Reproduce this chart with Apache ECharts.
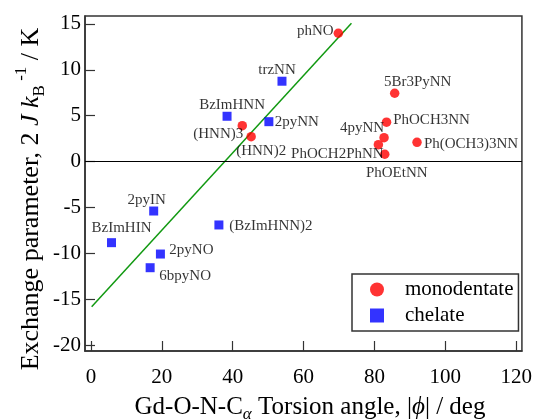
<!DOCTYPE html>
<html>
<head>
<meta charset="utf-8">
<script src="https://cdn.jsdelivr.net/npm/echarts@6/dist/echarts.min.js"></script>
<style>
html,body{margin:0;padding:0;background:#fff;}
#c{width:535px;height:419px;}
</style>
</head>
<body>
<div id="c"></div>
<script>
// ---- data ----
var xTicks = [0, 20, 40, 60, 80, 100, 120];
var yTicks = [-20, -15, -10, -5, 0, 5, 10, 15];

var monoNames = ['phNO', '(HNN)3', '(HNN)2', '5Br3PyNN', 'PhOCH3NN', '4pyNN', 'PhOCH2PhNN', 'PhOEtNN', 'Ph(OCH3)3NN'];
var monoX = [69.8, 42.7, 45.2, 85.7, 83.4, 82.7, 81.1, 82.9, 92.0];
var monoY = [13.99, 3.91, 2.72, 7.45, 4.29, 2.61, 1.84, 0.80, 2.10];

var chelNames = ['trzNN', 'BzImHNN', '2pyNN', '2pyIN', 'BzImHIN', '(BzImHNN)2', '2pyNO', '6bpyNO'];
var chelX = [53.9, 38.4, 50.2, 17.7, 5.8, 36.1, 19.6, 16.7];
var chelY = [8.76, 4.94, 4.35, -5.39, -8.84, -6.91, -10.08, -11.57];

var fitX = [0.2, 73.5];
var fitY = [-15.82, 15.08];

// ---- label placement (style, px offsets of label centre from mark) ----
var monoLabelOffset = [[-23, -2], [-24, 8], [10, 14], [23, -11], [45, -2], [-22, -10], [-41, 9], [12, 19], [54, 2]];
var chelLabelOffset = [[-5, -11], [5, -11], [28, 0], [-7, -11], [10, -15], [52, 1], [31, -4], [35, 8]];

var FONT = 'Liberation Serif, Times New Roman, serif';

function build(names, xs, ys, offs) {
  return names.map(function (n, i) {
    return { name: n, value: [xs[i], ys[i]], label: { offset: offs[i] } };
  });
}

var chart = echarts.init(document.getElementById('c'), null, { renderer: 'canvas' });

var axisCommon = {
  type: 'value',
  axisLine: { show: true, onZero: false, lineStyle: { color: '#333', width: 1.5 } },
  axisTick: { show: true, inside: true, length: 10, lineStyle: { color: '#333', width: 1.2 } },
  splitLine: { show: false },
  axisLabel: { color: '#000', fontFamily: FONT, fontSize: 21 }
};

var option = {
  backgroundColor: '#fff',
  animation: false,
  grid: { left: 85, right: 10, top: 16, bottom: 68, show: true, borderColor: '#333', borderWidth: 1.5, backgroundColor: 'transparent' },
  xAxis: echarts.util.merge({
    min: -1.68, max: 121.6,
    axisTick: { customValues: xTicks },
    axisLabel: { customValues: xTicks, margin: 16 }
  }, axisCommon),
  yAxis: echarts.util.merge({
    min: -20.65, max: 15.87,
    axisTick: { customValues: yTicks },
    axisLabel: { customValues: yTicks, margin: 4 }
  }, axisCommon),
  legend: {
    orient: 'vertical',
    left: 352, top: 274,
    padding: [5, 5, 5, 18],
    itemGap: 5,
    itemWidth: 14, itemHeight: 14,
    borderColor: '#333', borderWidth: 1.5,
    backgroundColor: '#fff',
    textStyle: { color: '#000', fontFamily: FONT, fontSize: 21, lineHeight: 21, padding: [0, 0, 0, 16] },
    data: [{ name: 'monodentate', icon: 'circle' }, { name: 'chelate', icon: 'rect' }]
  },
  graphic: [
    {
      type: 'text', x: 31, y: 199, rotation: Math.PI / 2,
      style: {
        text: '{n|Exchange parameter, 2 }{i|J}{n| }{i|k}{sub|B}{sup| -1}{n| / K}',
        align: 'center', verticalAlign: 'middle', fill: '#000',
        rich: {
          n: { fontFamily: FONT, fontSize: 26, lineHeight: 35, fill: '#000' },
          i: { fontFamily: FONT, fontSize: 26, fontStyle: 'italic', lineHeight: 35, fill: '#000' },
          sub: { fontFamily: FONT, fontSize: 17, lineHeight: 17, verticalAlign: 'bottom', fill: '#000' },
          sup: { fontFamily: FONT, fontSize: 17, lineHeight: 17, verticalAlign: 'top', fill: '#000' }
        }
      }
    },
    {
      type: 'text', x: 310, y: 407,
      style: {
        text: '{n|Gd-O-N-C}{sub|α}{n| Torsion angle, |}{i|ϕ}{n|| / deg}',
        align: 'center', verticalAlign: 'middle', fill: '#000',
        rich: {
          n: { fontFamily: FONT, fontSize: 25, lineHeight: 32, fill: '#000' },
          i: { fontFamily: FONT, fontSize: 25, fontStyle: 'italic', lineHeight: 32, fill: '#000' },
          sub: { fontFamily: FONT, fontSize: 17, fontStyle: 'italic', lineHeight: 17, verticalAlign: 'bottom', fill: '#000' }
        }
      }
    }
  ],
  series: [
    {
      type: 'line',
      name: 'fit',
      data: fitX.map(function (x, i) { return [x, fitY[i]]; }),
      showSymbol: false,
      symbol: 'none',
      lineStyle: { color: '#119911', width: 1.5 },
      silent: true,
      z: 1,
      markLine: {
        silent: true,
        symbol: ['none', 'none'],
        label: { show: false },
        lineStyle: { color: '#000', width: 1.2, type: 'solid' },
        data: [{ yAxis: 0 }]
      }
    },
    {
      type: 'scatter',
      name: 'monodentate',
      symbol: 'circle',
      symbolSize: 9.5,
      itemStyle: { color: '#ff0000' },
      z: 3,
      label: { show: true, position: 'inside', formatter: '{b}', color: '#000', fontFamily: FONT, fontSize: 15 },
      data: build(monoNames, monoX, monoY, monoLabelOffset)
    },
    {
      type: 'scatter',
      name: 'chelate',
      symbol: 'rect',
      symbolSize: 9,
      itemStyle: { color: '#0000ff' },
      z: 3,
      label: { show: true, position: 'inside', formatter: '{b}', color: '#000', fontFamily: FONT, fontSize: 15 },
      data: build(chelNames, chelX, chelY, chelLabelOffset)
    }
  ]
};
chart.setOption(option);
</script>
</body>
</html>
